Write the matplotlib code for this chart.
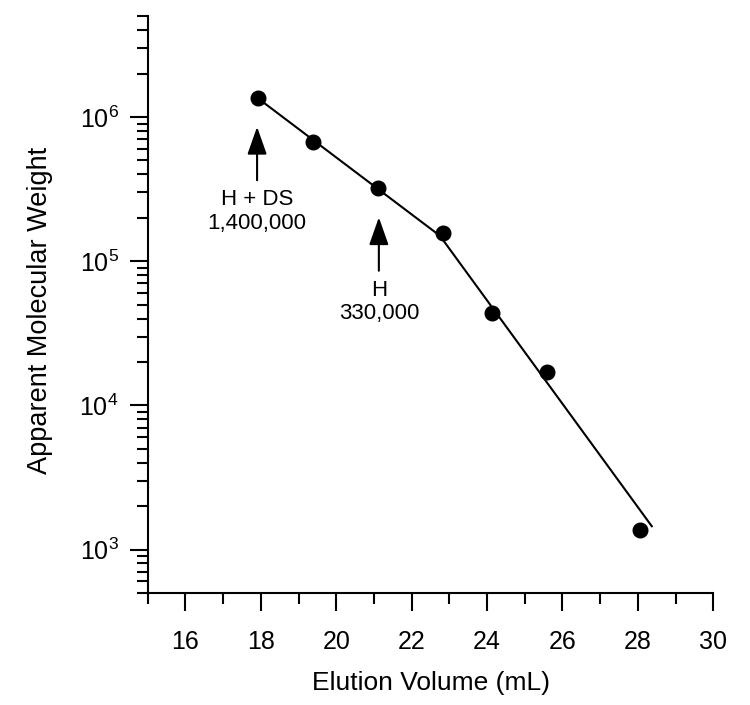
import numpy as np
import matplotlib
matplotlib.use("Agg")
import matplotlib.pyplot as plt
from matplotlib.ticker import LogLocator, FixedLocator, NullFormatter

plt.rcParams['font.family'] = ['Liberation Sans', 'DejaVu Sans']

# measured points
vol = [17.92, 19.39, 21.1, 22.84, 24.12, 25.6, 28.06]
mw = [1.35e6, 6.75e5, 3.2e5, 1.58e5, 4.4e4, 1.7e4, 1.36e3]

# two-segment fit line
fit_vol = [17.92, 22.75, 28.37]
fit_mw = [1.35e6, 1.5e5, 1.45e3]

# labelled standards
std_vol = [17.9, 21.13]
std_mw = [1.4e6, 3.3e5]
std_text = ["H + DS\n1,400,000", "H\n330,000"]

fig = plt.figure(figsize=(7.5, 7.05), dpi=100)
ax = fig.add_axes([0.197, 0.159, 0.754, 0.818])

ax.plot(fit_vol, fit_mw, color='black', lw=1.5, zorder=2)
ax.plot(vol, mw, 'o', color='black', ms=10.5, zorder=3)

for x, y, t in zip(std_vol, std_mw, std_text):
    ax.annotate("", xy=(x, y * 0.61), xytext=(x, y * 0.26),
                arrowprops=dict(arrowstyle="-|>,head_length=1.7,head_width=0.6",
                                color='black', lw=1.5, shrinkA=0, shrinkB=0))
    ax.text(x, y * 0.225, t, ha='center', va='top', fontsize=16, linespacing=1.15)

ax.set_yscale('log')
ax.set_xlim(15, 30)
ax.set_ylim(500, 5e6)

ax.xaxis.set_major_locator(FixedLocator(np.arange(16, 31, 2)))
ax.xaxis.set_minor_locator(FixedLocator(np.arange(15, 30, 2)))
ax.yaxis.set_major_locator(LogLocator(base=10, numticks=10))
ax.yaxis.set_minor_locator(LogLocator(base=10, subs=np.arange(2, 10), numticks=10))
ax.yaxis.set_minor_formatter(NullFormatter())

for s in ['top', 'right']:
    ax.spines[s].set_visible(False)
for s in ['left', 'bottom']:
    ax.spines[s].set_linewidth(1.5)

ax.tick_params(which='major', direction='out', length=13, width=1.5, labelsize=18, pad=8)
ax.tick_params(which='minor', direction='out', length=8, width=1.5)
ax.tick_params(axis='x', which='major', pad=14)

ax.set_xlabel("Elution Volume (mL)", fontsize=19, labelpad=12)
ax.set_ylabel("Apparent Molecular Weight", fontsize=19.5, labelpad=19)
ax.yaxis.label.set_y(0.49)

fig.savefig("out.png", dpi=100)
